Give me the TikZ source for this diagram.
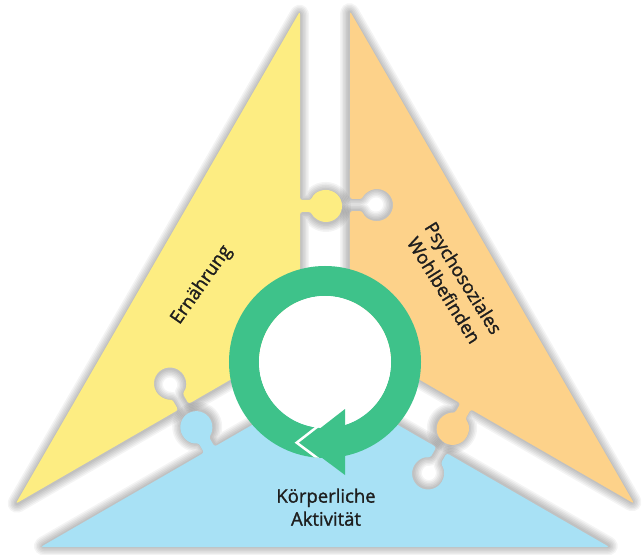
\documentclass[tikz,border=0pt]{standalone}
\usepackage{fontspec}
\setmainfont{Open Sans}
\newfontfamily\labfont[FakeBold=1.4]{Open Sans}
\definecolor{yel}{HTML}{FDED82}
\definecolor{ora}{HTML}{FDD28A}
\definecolor{blu}{HTML}{A8E1F5}
\definecolor{grn}{HTML}{3EC28A}
\definecolor{txt}{HTML}{1E1E1E}
\begin{document}
\begin{tikzpicture}[x=1pt,y=1pt,
  piecepath/.style={insert path={(-25,342.7) -- (-25,154) -- (-13.83,154)
     arc[start angle=158,end angle=-158,radius=16] -- (-25,142) -- (-25,14.43)
     -- (-136.34,-49.85) -- (-142.42,-39.31)
     arc[start angle=-37.96,end angle=277.94,radius=16] -- (-146.73,-55.85)
     -- (-309.3,-149.7) -- cycle}},
  piece/.style={rounded corners=2.5},
  shade/.style={draw=black, rounded corners=2.5, line join=round, draw opacity=0.045, line width=#1},
  lab/.style={font=\labfont\fontsize{18.5}{23}\selectfont, text=txt, align=center, inner sep=0pt}]
\useasboundingbox (-325,-200) rectangle (317,354);
\fill[white] (-325,-200) rectangle (317,354);
% soft shadows of the pieces
\foreach \ang in {0,-120,120}{
  \begin{scope}[rotate=\ang, yshift=-1pt]
    \foreach \w in {18,15,12,9,6,3}{\path[shade=\w, piecepath];}
  \end{scope}
}
% puzzle pieces
\fill[yel, piece, piecepath];
\begin{scope}[rotate=-120]
  \fill[ora, piece, piecepath];
\end{scope}
\begin{scope}[rotate=120]
  \fill[blu, piece, piecepath];
\end{scope}
% circular arrow
\draw[grn, line width=30] (0,-8) circle[radius=81];
\fill[white] (0,-8) circle[radius=66];
\begin{scope}
  \clip (0,-8) circle[radius=96];
  \draw[white, line width=2.5, line join=miter] (11.2,-58) -- (-28.3,-88.7) -- (3.8,-112.6);
\end{scope}
\fill[grn] (-23.3,-88.7) -- (20,-55) -- (20,-121) -- cycle;
% labels
\node[lab, rotate=55] (ern) at (-123.3,69) {Ernährung};
\node[lab, rotate=-58] (psy) at (129,70) {Psychosoziales\\Wohlbefinden};
\node[lab] (koe) at (1,-153.2) {Körperliche\\Aktivität};
\end{tikzpicture}
\end{document}
